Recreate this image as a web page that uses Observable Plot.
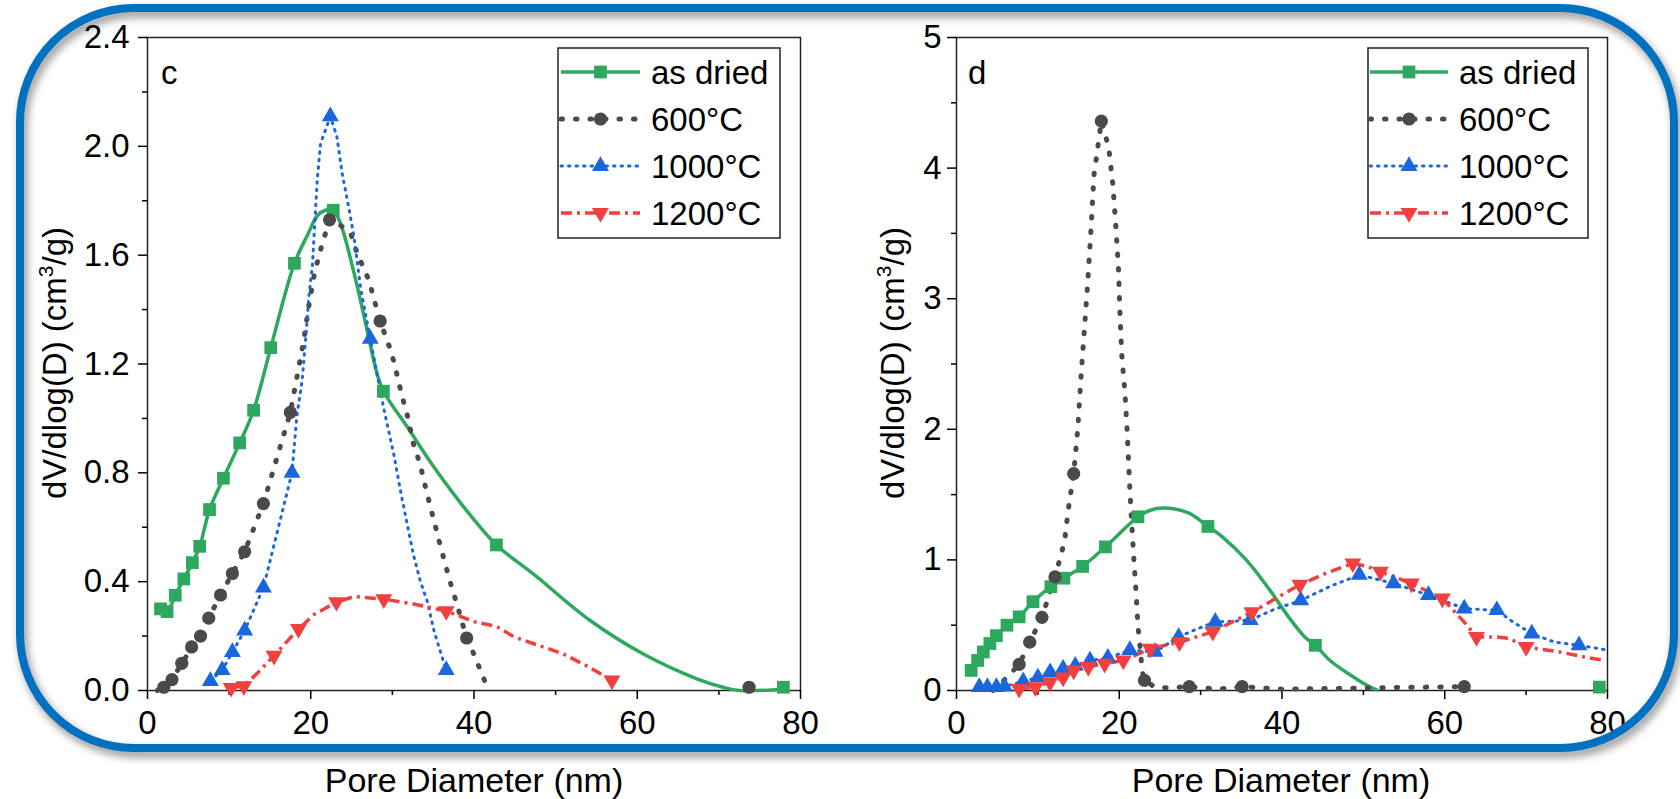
<!DOCTYPE html>
<html><head><meta charset="utf-8">
<script src="https://cdn.jsdelivr.net/npm/d3@7"></script>
<script src="https://cdn.jsdelivr.net/npm/@observablehq/plot@0.6"></script>
<style>
body{margin:0;background:#fff;}
#wrap{position:relative;width:1680px;height:799px;overflow:hidden;font-family:'Liberation Sans',Arial,sans-serif;background:#fff;}
.panel{position:absolute;top:0;}
.xt{position:absolute;top:762px;font-size:34px;line-height:36px;transform:translateX(-50%);white-space:nowrap;color:#000;}
#border{position:absolute;left:16px;top:4px;width:1646px;height:732px;border:8px solid #0070C0;border-radius:118px;filter:drop-shadow(3px 5px 4px rgba(0,0,0,0.45));pointer-events:none;}
</style></head>
<body>
<div id="wrap">
  <div id="pc" class="panel" style="left:0"></div>
  <div id="pd" class="panel" style="left:840px"></div>
  <div class="xt" style="left:474px">Pore Diameter (nm)</div>
  <div class="xt" style="left:1281px">Pore Diameter (nm)</div>
  <div id="border"></div>
</div>
<script>
// ---------- DATA ----------
const seriesNames = ["as dried", "600°C", "1000°C", "1200°C"];

// Panel c
const cXTicks = [0, 20, 40, 60, 80];
const cYTicks = [0, 0.4, 0.8, 1.2, 1.6, 2.0, 2.4];
const cAsDriedLine = [[1.6,0.30],[2.4,0.29],[3.4,0.35],[4.45,0.41],[5.5,0.47],[6.4,0.53],[7.6,0.665],[9.3,0.78],[11.3,0.91],[13.0,1.03],[15.1,1.26],[18.0,1.57],[19.7,1.68],[20.8,1.745],[21.8,1.765],[22.75,1.765],[23.6,1.72],[25.3,1.535],[26.9,1.325],[28.1,1.167],[28.9,1.10],[31.8,0.97],[34.7,0.838],[37.9,0.707],[40.0,0.628],[42.75,0.535],[47.6,0.42],[54.1,0.26],[60.7,0.135],[67.3,0.043],[70.5,0.012],[72.5,0.0],[77.9,0.005]];
const cAsDriedMarks = [[1.6,0.30],[2.4,0.29],[3.4,0.35],[4.45,0.41],[5.5,0.47],[6.4,0.53],[7.6,0.665],[9.3,0.78],[11.3,0.91],[13.0,1.03],[15.1,1.26],[18.0,1.57],[22.75,1.765],[28.9,1.10],[42.75,0.535],[77.9,0.012]];
const c600Line = [[1.2,0.0],[1.8,0.01],[2.8,0.035],[4.0,0.088],[5.3,0.154],[6.5,0.2],[7.5,0.266],[8.95,0.351],[10.4,0.43],[11.9,0.51],[14.2,0.687],[17.5,1.022],[18.3,1.15],[19.1,1.28],[19.8,1.42],[20.5,1.54],[21.3,1.63],[22.3,1.73],[23.2,1.72],[24.9,1.68],[25.6,1.614],[26.3,1.564],[27.1,1.51],[28.5,1.358],[29.6,1.266],[30.2,1.207],[31.2,1.08],[31.8,1.016],[32.6,0.904],[33.4,0.832],[33.9,0.766],[34.9,0.647],[35.9,0.529],[36.5,0.463],[37.1,0.397],[37.7,0.338],[39.1,0.193],[39.8,0.147],[40.6,0.088],[41.4,0.029],[42.0,0.0]];
const c600Marks = [[2.0,0.012],[3.0,0.04],[4.2,0.1],[5.4,0.16],[6.5,0.2],[7.5,0.266],[8.95,0.351],[10.4,0.43],[11.9,0.51],[14.2,0.687],[17.5,1.022],[22.3,1.73],[28.5,1.358],[39.1,0.193],[73.7,0.012]];
const c1000Line = [[7.7,0.035],[9.15,0.075],[10.4,0.141],[11.9,0.22],[14.2,0.378],[17.7,0.80],[18.3,1.009],[18.95,1.14],[19.4,1.30],[19.8,1.457],[20.2,1.56],[20.5,1.72],[20.8,1.878],[21.2,2.01],[22.4,2.11],[23.2,2.036],[23.85,1.90],[24.5,1.80],[25.3,1.667],[26.1,1.48],[27.3,1.292],[28.1,1.167],[28.95,1.036],[30.2,0.864],[31.0,0.733],[31.8,0.614],[32.6,0.496],[33.4,0.404],[34.3,0.325],[35.1,0.22],[35.9,0.141],[36.6,0.075]];
const c1000Marks = [[7.7,0.035],[9.15,0.075],[10.4,0.141],[11.9,0.22],[14.2,0.378],[17.7,0.80],[22.4,2.11],[27.3,1.292],[36.6,0.075]];
const c1200Line = [[10.25,0.01],[11.8,0.016],[13.4,0.062],[15.5,0.128],[16.7,0.167],[18.5,0.226],[20.4,0.279],[23.15,0.325],[25.3,0.345],[28.95,0.336],[32.6,0.318],[36.6,0.292],[40.0,0.253],[42.8,0.235],[44.9,0.197],[50.9,0.135],[54.1,0.086],[56.9,0.037]];
const c1200Marks = [[10.25,0.01],[11.8,0.016],[15.5,0.128],[18.5,0.226],[23.15,0.325],[28.95,0.336],[36.6,0.292],[56.9,0.037]];

// Panel d
const dXTicks = [0, 20, 40, 60, 80];
const dYTicks = [0, 1, 2, 3, 4, 5];
const dAsDriedLine = [[1.8,0.154],[2.6,0.23],[3.3,0.295],[4.1,0.36],[4.9,0.42],[6.2,0.5],[7.7,0.564],[9.4,0.68],[11.6,0.795],[13.2,0.86],[15.5,0.95],[18.3,1.10],[22.3,1.33],[23.8,1.38],[25.4,1.397],[28.5,1.36],[30.9,1.256],[32.6,1.18],[35.6,1.0],[38.2,0.795],[40.8,0.564],[42.8,0.41],[44.1,0.346],[45.9,0.23],[48.5,0.115],[50.5,0.038],[51.8,0.0]];
const dAsDriedMarks = [[1.8,0.154],[2.6,0.23],[3.3,0.295],[4.1,0.36],[4.9,0.42],[6.2,0.5],[7.7,0.564],[9.4,0.68],[11.6,0.795],[13.2,0.86],[15.5,0.95],[18.3,1.10],[22.3,1.33],[30.9,1.256],[44.1,0.346],[79.0,0.026]];
const d600Line = [[4.5,0.0],[6.2,0.1],[7.7,0.2],[9.0,0.37],[10.5,0.56],[12.1,0.87],[12.8,1.03],[13.3,1.15],[13.7,1.37],[14.4,1.66],[14.9,2.0],[15.3,2.4],[15.7,2.75],[16.1,3.1],[16.5,3.5],[16.9,3.95],[17.8,4.36],[18.7,4.16],[19.2,3.88],[19.5,3.63],[19.9,3.24],[20.1,2.86],[20.3,2.58],[20.7,2.28],[21.0,1.95],[21.3,1.54],[21.5,1.31],[21.8,1.0],[22.05,0.77],[22.3,0.49],[22.6,0.31],[22.8,0.154],[23.1,0.077],[24.4,0.026],[25.9,0.02],[28.6,0.03],[32.0,0.01],[35.1,0.03],[40.0,0.01],[62.4,0.03]];
const d600Marks = [[7.7,0.2],[9.0,0.37],[10.5,0.56],[12.1,0.87],[14.4,1.66],[17.8,4.36],[23.1,0.077],[28.6,0.03],[35.1,0.03],[62.4,0.03]];
const d1000Line = [[2.8,0.026],[3.8,0.026],[4.9,0.026],[5.9,0.03],[8.2,0.07],[10.0,0.10],[11.5,0.14],[13.1,0.167],[14.6,0.19],[16.4,0.23],[18.6,0.25],[21.3,0.31],[24.4,0.295],[27.3,0.41],[29.5,0.47],[31.8,0.526],[34.0,0.53],[36.1,0.54],[39.0,0.62],[42.3,0.69],[46.0,0.8],[49.5,0.885],[53.7,0.82],[58.0,0.73],[62.4,0.628],[64.5,0.62],[66.4,0.615],[68.5,0.52],[70.7,0.436],[73.5,0.37],[76.5,0.346],[79.7,0.313]];
const d1000Marks = [[2.8,0.026],[3.8,0.026],[4.9,0.026],[5.9,0.03],[8.2,0.07],[10.0,0.10],[11.5,0.14],[13.1,0.167],[14.6,0.19],[16.4,0.23],[18.6,0.25],[21.3,0.31],[24.4,0.295],[27.3,0.41],[31.8,0.526],[36.1,0.54],[42.3,0.69],[49.5,0.885],[53.7,0.82],[58.0,0.73],[62.4,0.628],[66.4,0.615],[70.7,0.436],[76.5,0.346]];
const d1200Line = [[7.7,0.013],[9.7,0.026],[11.5,0.064],[13.1,0.10],[14.4,0.154],[16.2,0.18],[18.2,0.205],[20.5,0.23],[23.8,0.32],[27.4,0.37],[31.5,0.45],[36.3,0.60],[42.2,0.81],[45.5,0.9],[48.7,0.974],[50.5,0.95],[52.1,0.91],[55.9,0.82],[59.7,0.705],[62.6,0.51],[63.9,0.41],[66.4,0.41],[67.9,0.40],[70.0,0.333],[74.1,0.295],[77.2,0.256],[79.7,0.23]];
const d1200Marks = [[7.7,0.013],[9.7,0.026],[11.5,0.064],[13.1,0.10],[14.4,0.154],[16.2,0.18],[18.2,0.205],[20.5,0.23],[23.8,0.32],[27.4,0.37],[31.5,0.45],[36.3,0.60],[42.2,0.81],[48.7,0.974],[52.1,0.91],[55.9,0.82],[59.7,0.705],[63.9,0.41],[70.0,0.333]];

// ---------- STYLES ----------
const sqrt3 = Math.sqrt(3);
const triangleDown = {draw(ctx, size) {
  const y = -Math.sqrt(size / (sqrt3 * 3));
  ctx.moveTo(0, -y * 2); ctx.lineTo(-sqrt3 * y, y); ctx.lineTo(sqrt3 * y, y); ctx.closePath();
}};
const seriesStyle = [
  {color: "#2EA85E", dash: null, width: 3.5, cap: "butt", symbol: d3.symbolSquare, r: 7.2, curve: "catmull-rom"},
  {color: "#4A4A4A", dash: "1.5 13", width: 5, cap: "round", symbol: d3.symbolCircle, r: 6.6, curve: "linear"},
  {color: "#1A66DD", dash: "1.5 6", width: 3, cap: "round", symbol: d3.symbolTriangle, r: 6.3, curve: "linear"},
  {color: "#F23F3F", dash: "11 5 3 5", width: 3.5, cap: "butt", symbol: triangleDown, r: 6.3, curve: "linear"}
];
const FONT = "'Liberation Sans', Arial, sans-serif";

function buildPanel(o) {
  const marks = [
    Plot.frame({stroke: "#222", strokeWidth: 1.5}),
    Plot.axisX(o.xTicks, {tickSize: 9, tickPadding: 11, strokeWidth: 1.5, label: null, tickFormat: d => String(d)}),
    Plot.axisX(o.xMinor, {tickSize: 5, strokeWidth: 1.5, label: null, tickFormat: () => ""}),
    Plot.axisY(o.yTicks, {tickSize: 9, tickPadding: o.yPad, strokeWidth: 1.5, label: null, tickFormat: o.yFormat}),
    Plot.axisY(o.yMinor, {tickSize: 5, strokeWidth: 1.5, label: null, tickFormat: () => ""})
  ];
  o.lines.forEach((data, i) => {
    const s = seriesStyle[i];
    marks.push(Plot.line(data, {x: d => d[0], y: d => d[1], stroke: s.color, strokeWidth: s.width,
      strokeDasharray: s.dash, strokeLinecap: s.cap, curve: s.curve}));
  });
  o.marks.forEach((data, i) => {
    const s = seriesStyle[i];
    marks.push(Plot.dot(data, {x: d => d[0], y: d => d[1], symbol: s.symbol, r: s.r, fill: s.color, stroke: "none"}));
  });
  const svg = Plot.plot({
    width: 840, height: 760,
    marginLeft: o.ml, marginRight: o.mr, marginTop: 37, marginBottom: 70,
    x: {domain: [0, 80]},
    y: {domain: o.yDomain},
    style: {fontFamily: FONT, fontSize: "33px", color: "#000", background: "transparent", overflow: "visible"},
    marks
  });
  const sel = d3.select(svg);
  // y title
  const t = sel.append("text").attr("transform", `translate(${o.ytX},363) rotate(-90)`)
    .attr("text-anchor", "middle").attr("font-size", 33).attr("font-family", FONT).attr("fill", "#000");
  t.append("tspan").text("dV/dlog(D) (cm");
  t.append("tspan").text("3").attr("font-size", 21).attr("dy", -13);
  t.append("tspan").text("/g)").attr("dy", 13);
  // panel letter
  sel.append("text").attr("x", o.letterX).attr("y", 84).attr("text-anchor", "start")
    .attr("font-size", 33).attr("font-family", FONT).text(o.letter);
  // legend
  const L = o.legend;
  const g = sel.append("g");
  g.append("rect").attr("x", L.x0).attr("y", 48).attr("width", L.x1 - L.x0).attr("height", 190)
    .attr("fill", "#fff").attr("stroke", "#222").attr("stroke-width", 1.5);
  seriesNames.forEach((name, i) => {
    const s = seriesStyle[i];
    const cy = 72 + i * 47;
    g.append("line").attr("x1", L.l0).attr("x2", L.l1).attr("y1", cy).attr("y2", cy)
      .attr("stroke", s.color).attr("stroke-width", s.width)
      .attr("stroke-dasharray", s.dash).attr("stroke-linecap", s.cap);
    g.append("path").attr("transform", `translate(${(L.l0 + L.l1) / 2},${cy})`)
      .attr("d", d3.symbol(s.symbol, Math.PI * s.r * s.r)()).attr("fill", s.color);
    g.append("text").attr("x", L.tx).attr("y", cy + 12).attr("text-anchor", "start")
      .attr("font-size", 33).attr("font-family", FONT).text(name);
  });
  return svg;
}

document.getElementById("pc").append(buildPanel({
  xTicks: cXTicks, xMinor: [10, 30, 50, 70], yTicks: cYTicks, yMinor: [0.2, 0.6, 1.0, 1.4, 1.8, 2.2],
  yDomain: [0, 2.4], yFormat: d3.format(".1f"), yPad: 9, ml: 147, mr: 40, ytX: 66,
  letter: "c", letterX: 161,
  lines: [cAsDriedLine, c600Line, c1000Line, c1200Line],
  marks: [cAsDriedMarks, c600Marks, c1000Marks, c1200Marks],
  legend: {x0: 558, x1: 780, l0: 561, l1: 640, tx: 651}
}));
document.getElementById("pd").append(buildPanel({
  xTicks: dXTicks, xMinor: [10, 30, 50, 70], yTicks: dYTicks, yMinor: [0.5, 1.5, 2.5, 3.5, 4.5],
  yDomain: [0, 5], yFormat: d => String(d), yPad: 6, ml: 116, mr: 73, ytX: 64,
  letter: "d", letterX: 128,
  lines: [dAsDriedLine, d600Line, d1000Line, d1200Line],
  marks: [dAsDriedMarks, d600Marks, d1000Marks, d1200Marks],
  legend: {x0: 528, x1: 748, l0: 530, l1: 608, tx: 619}
}));
</script>
</body></html>
